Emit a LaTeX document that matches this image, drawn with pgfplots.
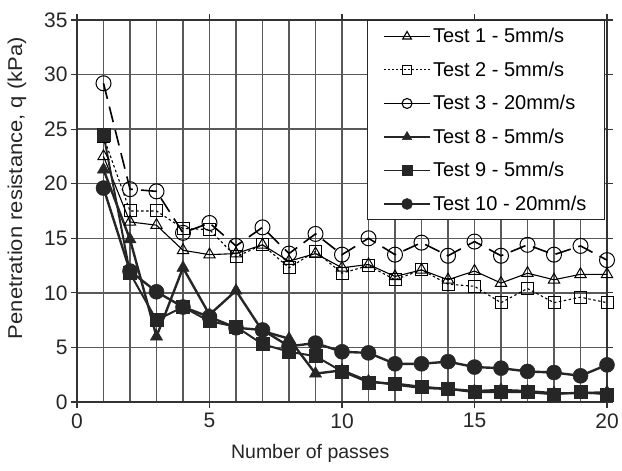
\documentclass[border=0pt]{standalone}
\usepackage{pgfplots}
\pgfplotsset{compat=1.18}
\usepackage{fontspec}
\setmainfont{Liberation Sans}

% passes vs penetration resistance q (kPa)
\pgfplotstableread{
n  t1    t2    t3    t8    t9    t10
1  22.5  24.3  29.2  21.3  24.5  19.6
2  16.5  17.5  19.5  14.9  11.8  12.0
3  16.2  17.5  19.3  6.0   7.5   10.1
4  13.9  15.9  15.5  12.3  8.7   8.7
5  13.5  15.8  16.4  8.0   7.4   7.8
6  13.6  13.3  14.3  10.2  6.9   6.8
7  14.4  14.4  16.0  6.5   5.3   6.6
8  12.9  12.3  13.6  5.8   4.6   5.1
9  13.6  13.8  15.4  2.6   4.2   5.4
10 12.3  11.8  13.5  2.9   2.8   4.6
11 12.6  12.5  15.0  1.9   1.8   4.5
12 11.5  11.2  13.5  1.6   1.7   3.5
13 12.1  12.1  14.6  1.3   1.4   3.5
14 11.2  10.8  13.4  1.2   1.2   3.7
15 12.0  10.6  14.7  1.0   0.9   3.2
16 10.9  9.1   13.4  1.1   0.9   3.1
17 11.8  10.4  14.4  1.0   0.9   2.8
18 11.2  9.1   13.5  0.8   0.7   2.7
19 11.7  9.6   14.3  0.8   0.9   2.4
20 11.7  9.1   13.0  0.9   0.7   3.4
}\passes

\begin{document}
\begin{tikzpicture}
\begin{axis}[
    scale only axis,
    width=530pt, height=382pt,
    xmin=0, xmax=20, ymin=0, ymax=35,
    xtick={0,5,...,20}, minor x tick num=4,
    ytick={0,5,...,35},
    grid=both,
    major grid style={line width=1.3pt, black!65},
    minor grid style={line width=1.3pt, black!65},
    axis line style={line width=1.3pt, black!80},
    tick align=outside,
    major tick length=6pt, minor tick length=0pt,
    tick style={line width=1.2pt, black!80},
    tick label style={font=\fontsize{21}{24}\selectfont, black!85},
    xticklabel shift=2pt,
    /pgf/number format/assume math mode=true,
    xlabel={Number of passes},
    ylabel={\scalebox{1.1}[1]{Penetration resistance, q (kPa)}},
    xlabel style={font=\fontsize{19.5}{22}\selectfont, black!85,
        at={(rel axis cs:0.44,0)}, anchor=center, yshift=-51pt},
    ylabel style={font=\fontsize{20}{22}\selectfont, black!85,
        at={(rel axis cs:0,0.56)}, anchor=center, yshift=60pt},
    legend style={at={(rel axis cs:0.996,1)}, anchor=north east,
        font=\fontsize{20}{23}\selectfont, draw=black!85, line width=1pt,
        row sep=13.5pt, inner xsep=16pt, inner ysep=6pt,
        legend cell align=left},
    legend image code/.code={
        \draw[#1] (0cm,0cm) -- (1.6cm,0cm);
        \draw[#1, only marks] plot coordinates {(0.8cm,0cm)};},
]
\addplot[black, line width=1.1pt, mark=triangle, mark size=6.5pt,
    mark options={solid, line width=1pt}, forget plot] table[x=n, y=t1] {\passes};
\addplot[black, line width=1.1pt, dash pattern=on 2.5pt off 2.5pt, mark=square, mark size=6pt,
    mark options={solid, line width=1pt}, forget plot] table[x=n, y=t2] {\passes};
\addplot[black, line width=1.6pt, dash pattern=on 16pt off 8pt, mark=o, mark size=7.5pt,
    mark options={solid, line width=1pt}, forget plot] table[x=n, y=t3] {\passes};
\addplot[black!85, line width=2.4pt, mark=triangle*, mark size=7pt,
    mark options={solid, line width=0.5pt}, forget plot] table[x=n, y=t8] {\passes};
\addplot[black!85, line width=2pt, mark=square*, mark size=6.5pt,
    mark options={solid, line width=0.5pt}, forget plot] table[x=n, y=t9] {\passes};
\addplot[black!85, line width=2.4pt, mark=*, mark size=7.5pt,
    mark options={solid, line width=0.5pt}, forget plot] table[x=n, y=t10] {\passes};

\addlegendimage{black, line width=1.1pt, mark=triangle, mark size=5pt, mark options={solid}}
\addlegendentry{Test 1 - 5mm/s}
\addlegendimage{black, line width=1pt, dash pattern=on 2pt off 2pt, mark=square, mark size=4.5pt, mark options={solid}}
\addlegendentry{Test 2 - 5mm/s}
\addlegendimage{black, line width=1.1pt, mark=o, mark size=5pt, mark options={solid}}
\addlegendentry{Test 3 - 20mm/s}
\addlegendimage{black!85, line width=2.4pt, mark=triangle*, mark size=5.5pt, mark options={solid, line width=0.5pt}}
\addlegendentry{Test 8 - 5mm/s}
\addlegendimage{black!85, line width=1.6pt, mark=square*, mark size=5pt, mark options={solid, line width=0.5pt}}
\addlegendentry{Test 9 - 5mm/s}
\addlegendimage{black!85, line width=2.4pt, mark=*, mark size=5.5pt, mark options={solid, line width=0.5pt}}
\addlegendentry{Test 10 - 20mm/s}
\end{axis}
\pgfresetboundingbox
\path (current axis.south west) ++(-77pt,-68pt) coordinate (bl);
\path (current axis.north east) ++(15pt,20pt) coordinate (tr);
\path[use as bounding box] (bl) rectangle (tr);
\end{tikzpicture}
\end{document}
